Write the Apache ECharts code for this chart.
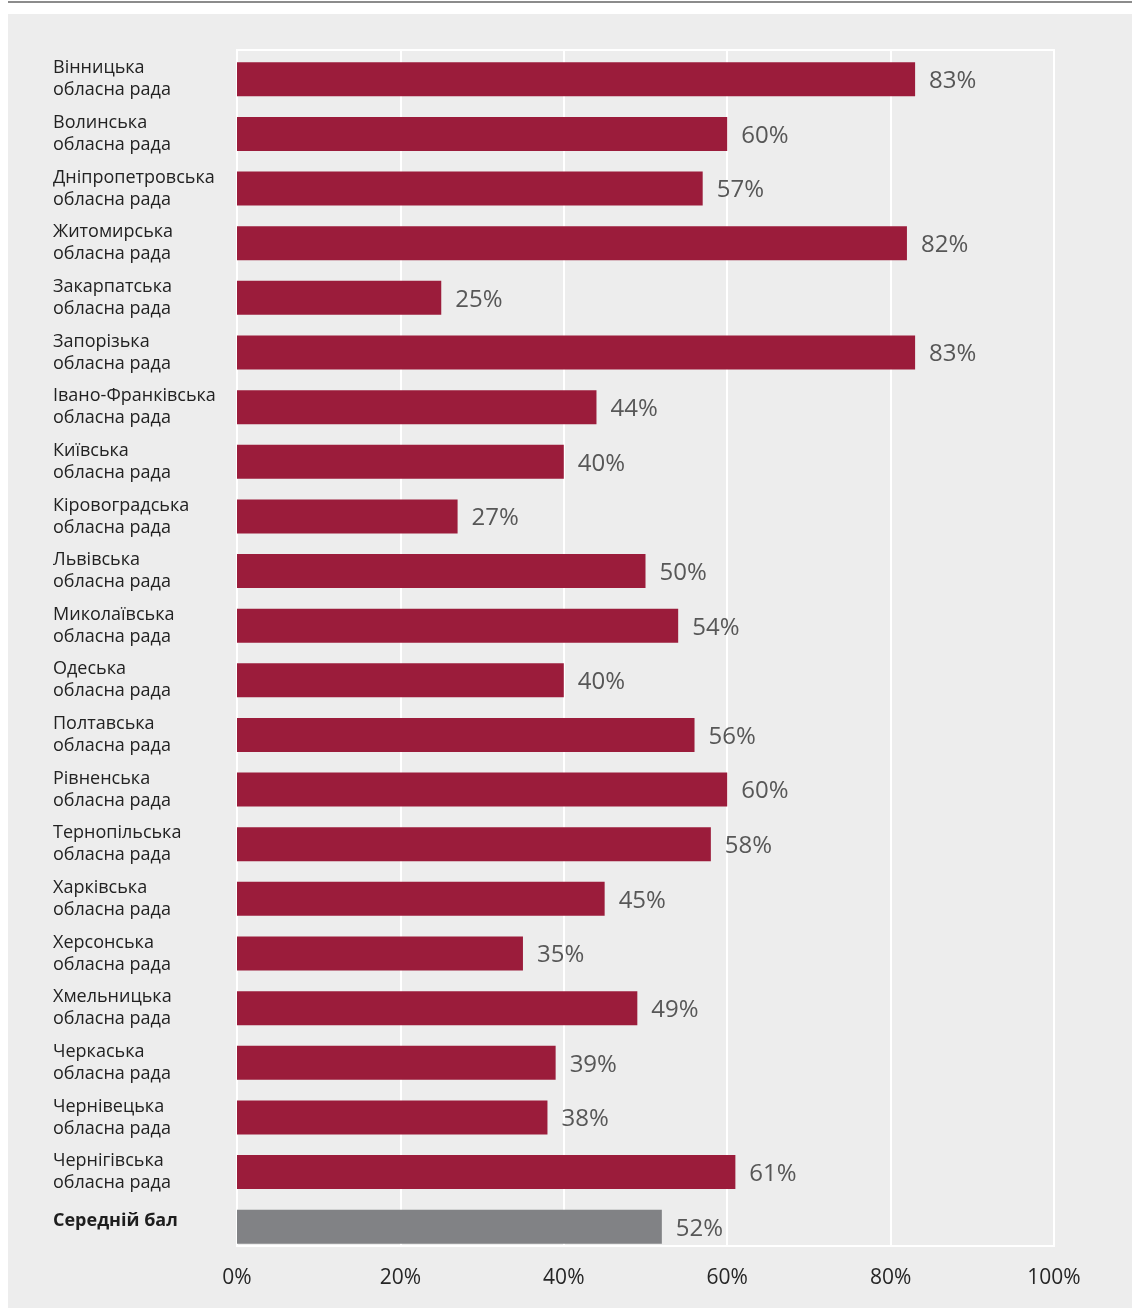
<!DOCTYPE html>
<html>
<head>
<meta charset="utf-8">
<script src="https://cdn.jsdelivr.net/npm/echarts@6/dist/echarts.min.js"></script>
<style>
  body { margin: 0; background: #fff; width: 1132px; height: 1308px; position: relative; overflow: hidden; }
  #topline { position: absolute; left: 8px; top: 1px; width: 1124px; height: 2px; background: #8c8c8c; }
  #chart { position: absolute; left: 8px; top: 14px; width: 1124px; height: 1294px; background: #ededed; }
</style>
</head>
<body>
<div id="topline"></div>
<div id="chart"></div>
<script>
// регіони
const regions = [
  'Вінницька', 'Волинська', 'Дніпропетровська', 'Житомирська', 'Закарпатська',
  'Запорізька', 'Івано-Франківська', 'Київська', 'Кіровоградська', 'Львівська',
  'Миколаївська', 'Одеська', 'Полтавська', 'Рівненська', 'Тернопільська',
  'Харківська', 'Херсонська', 'Хмельницька', 'Черкаська', 'Чернівецька', 'Чернігівська'
];
const scores = [83, 60, 57, 82, 25, 83, 44, 40, 27, 50, 54, 40, 56, 60, 58, 45, 35, 49, 39, 38, 61];
const avgLabel = 'Середній бал';
const avgScore = 52;
const ticks = [0, 20, 40, 60, 80, 100];

const categories = regions.map(r => r + '\nобласна рада').concat([avgLabel]);
const values = scores.map(v => ({ value: v }))
  .concat([{ value: avgScore, itemStyle: { color: '#818285' } }]);

const chart = echarts.init(document.getElementById('chart'));

const option = {
  animation: false,
  grid: [
    // смуги
    { left: 229, right: 78, top: 38, bottom: 54 },
    // рамка та шкала
    {
      left: 229, right: 78, top: 36, bottom: 62,
      show: true,
      borderColor: '#ffffff',
      borderWidth: 2,
      backgroundColor: 'transparent'
    }
  ],
  xAxis: [
    {
      type: 'value',
      gridIndex: 0,
      min: ticks[0],
      max: ticks[ticks.length - 1],
      show: false
    },
    {
      type: 'value',
      gridIndex: 1,
      min: ticks[0],
      max: ticks[ticks.length - 1],
      interval: 20,
      axisLine: { show: false },
      axisTick: { show: false },
      splitLine: { show: true, lineStyle: { color: '#ffffff', width: 2 } },
      axisLabel: {
        margin: 22,
        fontSize: 21,
        color: '#262626',
        fontFamily: 'Open Sans',
        formatter: '{value}%'
      }
    }
  ],
  yAxis: [
    {
      type: 'category',
      gridIndex: 0,
      inverse: true,
      data: categories,
      axisLine: { show: false },
      axisTick: { show: false },
      axisLabel: {
        align: 'left',
        margin: 184,
        fontSize: 18,
        lineHeight: 22,
        color: '#222222',
        fontFamily: 'Open Sans',
        formatter: function (v) {
          return v === avgLabel ? '{b|' + v + '}' : v;
        },
        rich: {
          b: { fontWeight: 'bold', fontSize: 18, color: '#1e1e1e', fontFamily: 'Open Sans', padding: [0, 0, 12, 0] }
        }
      }
    },
    {
      type: 'category',
      gridIndex: 1,
      data: categories,
      show: false
    }
  ],
  series: [{
    type: 'bar',
    xAxisIndex: 0,
    yAxisIndex: 0,
    data: values,
    barWidth: 34,
    itemStyle: { color: '#9b1c3b' },
    label: {
      show: true,
      position: 'right',
      distance: 14,
      fontSize: 24,
      color: '#575757',
      fontFamily: 'Open Sans',
      offset: [0, 2],
      formatter: '{c}%'
    }
  }]
};

chart.setOption(option);
</script>
</body>
</html>
